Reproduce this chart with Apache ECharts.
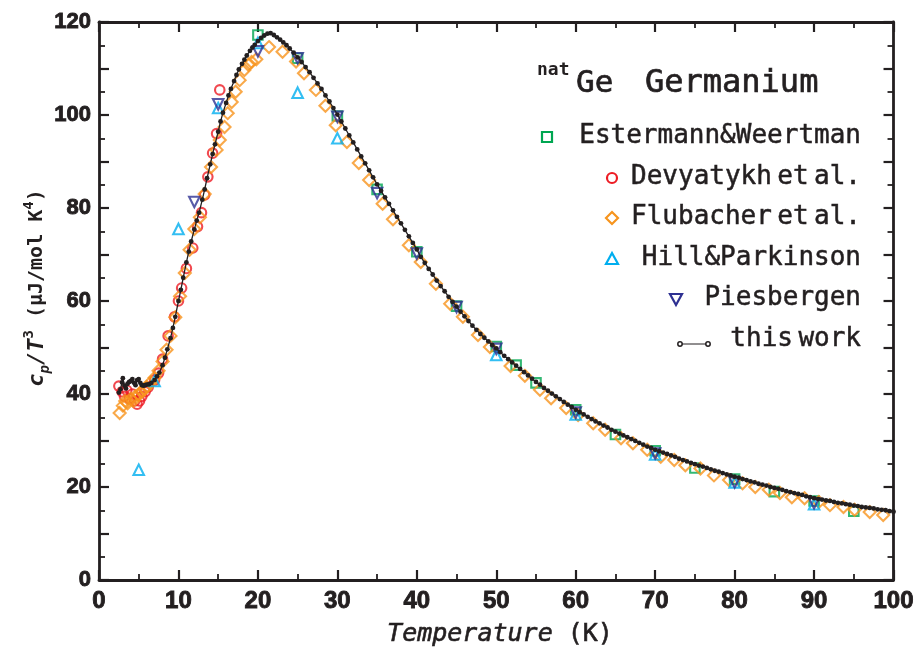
<!DOCTYPE html>
<html>
<head>
<meta charset="utf-8">
<script src="https://cdn.jsdelivr.net/npm/echarts@6/dist/echarts.min.js"></script>
<style>
    body { margin: 0; padding: 0; background: #fff; }
    #chart { width: 917px; height: 649px; }
</style>
</head>
<body>
<div id="chart"></div>
<script type="text/javascript">
    // this work (black dots + line)
    var workT = [2.5, 2.7, 2.9, 3.0, 3.2, 3.4, 3.6, 3.8, 4.0, 4.2, 4.4, 4.6, 4.8, 5.0, 5.2, 5.4, 5.6, 5.8, 6.0, 6.3, 6.6,
        7.0, 7.3, 7.6, 8.0, 8.3, 8.6, 9.0, 9.3, 9.6, 10.0, 10.3, 10.6, 11.0, 11.3, 11.6, 12.0, 12.3, 12.6, 13.0, 13.3, 13.6,
        14.0, 14.3, 14.6, 15.0, 15.3, 15.6, 16.0, 16.3, 16.6, 17.0, 17.3, 17.6, 18.0, 18.3, 18.6, 19.0, 19.3, 19.6,
        20.0, 20.4, 20.8, 21.2, 21.6, 22.0, 22.4, 22.8, 23.2, 23.6, 24.0, 24.5, 25.0, 25.5, 26.0, 26.5, 27.0, 27.5,
        28.0, 28.5, 29.0, 29.5, 30.0, 30.5, 31.0, 31.5, 32.0, 32.5, 33.0, 33.5, 34.0, 34.5, 35.0, 35.5, 36.0, 36.5,
        37.0, 37.5, 38.0, 38.5, 39.0, 39.5, 40.0, 40.5, 41.0, 41.5, 42.0, 42.5, 43.0, 43.5, 44.0, 44.5, 45.0, 45.5,
        46.0, 46.5, 47.0, 47.5, 48.0, 48.5, 49.0, 49.5, 50.0, 50.5, 51.0, 51.5, 52.0, 52.5, 53.0, 53.5, 54.0, 54.5,
        55.0, 55.5, 56.0, 56.5, 57.0, 57.5, 58.0, 58.5, 59.0, 59.5, 60.0, 60.5, 61.0, 61.5, 62.0, 62.5, 63.0, 63.5,
        64.0, 64.5, 65.0, 65.5, 66.0, 66.5, 67.0, 67.5, 68.0, 68.5, 69.0, 69.5, 70.0, 70.5, 71.0, 71.5, 72.0, 72.5,
        73.0, 73.5, 74.0, 74.5, 75.0, 75.5, 76.0, 76.5, 77.0, 77.5, 78.0, 78.5, 79.0, 79.5, 80.0, 80.5, 81.0, 81.5,
        82.0, 82.5, 83.0, 83.5, 84.0, 84.5, 85.0, 85.5, 86.0, 86.5, 87.0, 87.5, 88.0, 88.5, 89.0, 89.5, 90.0, 90.5,
        91.0, 91.5, 92.0, 92.5, 93.0, 93.5, 94.0, 94.5, 95.0, 95.5, 96.0, 96.5, 97.0, 97.5, 98.0, 98.5, 99.0, 99.5, 100.0];
    var workCp = [40.3, 41.0, 42.5, 43.4, 41.8, 41.2, 42.2, 42.6, 42.8, 43.2, 42.4, 41.9, 43.0, 43.2, 42.4, 41.9, 41.8, 41.9, 42.0, 42.1, 42.4,
        43.0, 43.8, 44.6, 46.2, 47.8, 49.6, 52.0, 54.2, 56.6, 60.0, 62.4, 65.0, 68.3, 70.6, 72.8, 75.4, 77.3, 79.0, 81.8, 84.0, 86.4,
        89.4, 91.6, 93.7, 96.4, 98.6, 100.5, 102.6, 104.2, 105.6, 107.3, 108.6, 109.8, 111.0, 111.9, 112.8, 113.8, 114.5, 115.1,
        115.9, 116.6, 117.1, 117.5, 117.6, 117.2, 116.7, 116.2, 115.6, 115.0, 114.3, 113.4, 112.4, 111.4, 110.3, 109.2, 108.0, 106.8,
        105.6, 104.2, 102.9, 101.5, 100.1, 98.6, 97.1, 95.6, 94.1, 92.6, 91.1, 89.6, 88.1, 86.6, 85.1, 83.7, 82.3, 80.9,
        79.5, 78.1, 76.7, 75.3, 73.9, 72.5, 71.1, 69.5, 68.2, 66.9, 65.7, 64.4, 63.2, 62.1, 60.9, 59.8, 58.8, 57.7,
        56.7, 55.7, 54.7, 53.8, 52.9, 52.1, 51.3, 50.5, 49.8, 49.0, 48.2, 47.5, 46.8, 46.1, 45.4, 44.7, 44.0, 43.3,
        42.6, 42.0, 41.3, 40.7, 40.1, 39.5, 38.9, 38.3, 37.7, 37.2, 36.6, 36.1, 35.6, 35.1, 34.6, 34.1, 33.7, 33.2,
        32.8, 32.3, 31.9, 31.5, 31.1, 30.7, 30.3, 29.9, 29.5, 29.1, 28.7, 28.4, 28.0, 27.7, 27.4, 27.1, 26.8, 26.5,
        26.1, 25.8, 25.5, 25.2, 24.9, 24.6, 24.4, 24.1, 23.8, 23.5, 23.3, 23.0, 22.7, 22.5, 22.2, 22.0, 21.7, 21.5,
        21.2, 21.0, 20.7, 20.5, 20.3, 20.0, 19.8, 19.6, 19.4, 19.1, 18.9, 18.7, 18.5, 18.3, 18.0, 17.8, 17.6, 17.4,
        17.3, 17.1, 17.0, 16.8, 16.6, 16.5, 16.3, 16.2, 16.0, 15.9, 15.7, 15.6, 15.5, 15.4, 15.2, 15.1, 15.0, 14.8, 14.7];

    // Estermann & Weertman (green squares)
    var esterT = [20, 25, 30, 35, 40, 45, 50, 52.5, 55, 60, 65, 70, 75, 80, 85, 90, 95];
    var esterCp = [117.2, 112.2, 99.8, 84.0, 70.6, 58.9, 50.2, 46.2, 42.4, 36.6, 31.3, 27.8, 24.1, 21.7, 19.0, 17.0, 14.8];

    // Devyatykh et al. (red circles)
    var devT = [2.5, 2.9, 3.2, 3.5, 3.8, 4.2, 4.5, 4.8, 5.1, 5.4, 5.8, 6.2, 7.0, 7.5, 8.0, 8.7, 9.5, 10.0, 10.4, 11.0,
        11.8, 12.4, 12.9, 13.3, 13.7, 14.3, 14.8, 15.2];
    var devCp = [41.7, 40.5, 39.5, 40.8, 39.0, 40.0, 38.5, 37.8, 38.5, 39.5, 40.5, 41.5, 43.0, 44.5, 47.5, 52.5, 56.6, 60.0, 62.8, 67.0,
        71.4, 76.0, 79.0, 82.8, 86.7, 91.8, 96.0, 105.4];

    // Flubacher et al. (orange diamonds)
    var flubT = [2.6, 3.0, 3.3, 3.6, 4.0, 4.3, 4.6, 5.0, 5.3, 5.7, 6.0, 6.5, 7.0, 7.5, 8.0, 8.5, 9.0, 9.6, 10.2, 10.8,
        11.4, 12.0, 12.7, 13.3, 14.1, 14.8, 15.2, 15.8, 16.2, 16.7, 17.2, 17.7, 18.3, 18.8, 19.2, 19.8, 21.4, 23.1, 24.8,
        25.8, 27.3, 28.5, 29.8, 31.2, 32.7, 34.0, 35.7, 37.0, 39.0, 40.5, 42.4, 44.2, 45.8, 47.7, 49.2, 51.8, 53.6, 55.5,
        56.9, 58.8, 60.3, 62.2, 63.7, 65.7, 67.2, 69.0, 70.7, 72.4, 73.8, 75.7, 77.4, 79.3, 81.0, 82.6, 84.3, 85.7, 87.2,
        88.8, 90.6, 92.0, 93.7, 95.1, 97.0, 98.7];
    var flubCp = [35.9, 37.5, 38.5, 38.0, 39.0, 38.5, 39.5, 39.8, 40.5, 41.0, 41.5, 42.5, 43.5, 45.0, 47.0, 49.5, 52.5, 56.5, 61.0, 66.0,
        71.0, 75.5, 78.0, 83.0, 88.8, 92.5, 94.6, 97.4, 100.4, 102.8, 105.0, 107.5, 109.7, 110.8, 111.4, 112.0, 114.6, 113.6, 111.5,
        109.0, 105.4, 102.0, 97.8, 94.2, 89.7, 86.0, 80.9, 77.6, 72.0, 68.4, 63.7, 59.4, 56.6, 52.7, 50.1, 46.0, 43.9, 40.9,
        39.1, 37.0, 35.5, 33.7, 32.3, 30.5, 29.4, 28.0, 26.5, 25.8, 24.7, 24.0, 22.5, 21.5, 20.8, 20.0, 19.4, 18.7, 17.8,
        17.6, 16.8, 16.1, 15.7, 15.1, 14.6, 14.0];

    // Hill & Parkinson (cyan triangles)
    var hillT = [5, 7, 10, 15, 20, 25, 30, 50, 60, 70, 80, 90];
    var hillCp = [23.7, 42.8, 75.5, 101.5, 115.5, 104.8, 95.0, 48.4, 35.6, 27.0, 21.0, 16.3];

    // Piesbergen (blue down triangles)
    var piesT = [12, 15, 20, 25, 30, 35, 40, 45, 50, 60, 70, 80, 90];
    var piesCp = [81.3, 102.3, 113.7, 112.2, 99.6, 83.2, 70.2, 58.7, 49.7, 36.0, 27.2, 21.0, 16.5];

    var ink = '#231f20';

    function pairs(xs, ys) {
        var out = [];
        for (var i = 0; i < xs.length; i++) out.push([xs[i], ys[i]]);
        return out;
    }

    function hollow(name, symbol, size, color, xs, ys, rotate) {
        return {
            name: name,
            type: 'scatter',
            symbol: symbol,
            symbolSize: size,
            symbolRotate: rotate || 0,
            data: pairs(xs, ys),
            itemStyle: { color: 'rgba(255,255,255,0)', borderColor: color, borderWidth: 2.1 },
            silent: true
        };
    }

    var tickAxis = function (pos, showLabel, isX) {
        return {
            type: 'value',
            position: pos,
            min: 0,
            max: isX ? 100 : 120,
            interval: 10,
            axisLine: { onZero: false, lineStyle: { color: ink, width: 2.8 } },
            axisTick: { inside: true, length: 10, lineStyle: { color: ink, width: 2.2 } },
            minorTick: { show: true, splitNumber: 2, length: 6, lineStyle: { color: ink, width: 1.8 } },
            splitLine: { show: false },
            axisLabel: {
                show: showLabel,
                color: ink,
                fontFamily: 'Liberation Sans',
                fontWeight: 'bold',
                fontSize: isX ? 24 : 22,
                textBorderColor: ink,
                textBorderWidth: 0.9,
                margin: isX ? 9 : 8,
                formatter: function (v) {
                    if (!isX && v % 20 !== 0) return '';
                    return String(v);
                }
            }
        };
    };

    // legend words; narrow gaps between words as in the original
    var legendRich = {
        w: { fontFamily: 'DejaVu Sans Mono', fontSize: 26, fill: ink, stroke: ink, lineWidth: 0.5 },
        g: { fontFamily: 'DejaVu Sans Mono', fontSize: 9, fill: ink }
    };
    function legendText(txt, y) {
        var parts = txt.split(' ');
        var s = parts.map(function (p) { return '{w|' + p + '}'; }).join('{g| }');
        return { type: 'text', x: 861, y: y, style: { text: s, rich: legendRich, align: 'right', verticalAlign: 'middle' } };
    }

    var chart = echarts.init(document.getElementById('chart'), null, { renderer: 'canvas' });

    var option = {
        animation: false,
        backgroundColor: '#fff',
        grid: { left: 99, right: 20, top: 22, bottom: 69 },
        xAxis: [tickAxis('bottom', true, true), tickAxis('top', false, true)],
        yAxis: [tickAxis('left', true, false), tickAxis('right', false, false)],
        series: [
            hollow('Devyatykh et al.', 'circle', 9.5, '#ed1c24', devT, devCp),
            hollow('Estermann&Weertman', 'rect', 9.5, '#00a651', esterT, esterCp),
            hollow('Flubacher et al.', 'diamond', 12, '#f7941d', flubT, flubCp),
            hollow('Hill&Parkinson', 'triangle', 10.5, '#00aeef', hillT, hillCp),
            hollow('Piesbergen', 'triangle', 10.5, '#2e3192', piesT, piesCp, 180),
            {
                name: 'this work',
                type: 'line',
                data: pairs(workT, workCp),
                symbol: 'circle',
                symbolSize: 4.8,
                showSymbol: true,
                showAllSymbol: true,
                itemStyle: { color: ink },
                lineStyle: { color: ink, width: 1.3 },
                silent: true
            }
        ],
        graphic: [
            // title
            { type: 'text', x: 537, y: 70, style: { text: 'nat', fontFamily: 'DejaVu Sans Mono', fontWeight: 'bold', fontSize: 18, fill: ink, verticalAlign: 'middle' } },
            { type: 'text', x: 576, y: 84, style: { text: 'Ge', fontFamily: 'DejaVu Sans Mono', fontSize: 31, fill: ink, stroke: ink, lineWidth: 0.7, verticalAlign: 'middle' } },
            { type: 'text', x: 645, y: 84, style: { text: 'Germanium', fontFamily: 'DejaVu Sans Mono', fontSize: 32, fill: ink, stroke: ink, lineWidth: 0.7, verticalAlign: 'middle' } },
            // legend
            legendText('Estermann&Weertman', 136),
            legendText('Devyatykh et al.', 177),
            legendText('Flubacher et al.', 217),
            legendText('Hill&Parkinson', 258),
            legendText('Piesbergen', 298),
            legendText('this work', 339),
            { type: 'rect', shape: { x: 542, y: 132, width: 10, height: 10 }, style: { fill: 'none', stroke: '#00a651', lineWidth: 2.2 } },
            { type: 'circle', shape: { cx: 612, cy: 178, r: 5 }, style: { fill: 'none', stroke: '#ed1c24', lineWidth: 2.2 } },
            { type: 'polygon', shape: { points: [[612, 212], [618, 218], [612, 224], [606, 218]] }, style: { fill: 'none', stroke: '#f7941d', lineWidth: 2.2 } },
            { type: 'polygon', shape: { points: [[612, 253], [618, 264], [606, 264]] }, style: { fill: 'none', stroke: '#00aeef', lineWidth: 2.2 } },
            { type: 'polygon', shape: { points: [[670, 294], [682, 294], [676, 305]] }, style: { fill: 'none', stroke: '#2e3192', lineWidth: 2.2 } },
            { type: 'line', shape: { x1: 681, y1: 344, x2: 707, y2: 344 }, style: { stroke: ink, lineWidth: 1 } },
            { type: 'circle', shape: { cx: 680, cy: 344, r: 2.2 }, style: { fill: '#fff', stroke: ink, lineWidth: 1.5 } },
            { type: 'circle', shape: { cx: 708, cy: 344, r: 2.2 }, style: { fill: '#fff', stroke: ink, lineWidth: 1.5 } },
            // axis titles
            {
                type: 'text', x: 500, y: 634,
                style: {
                    text: '{i|Temperature}{n| (K)}', align: 'center', verticalAlign: 'middle',
                    rich: {
                        i: { fontFamily: 'DejaVu Sans Mono', fontSize: 25, fontStyle: 'italic', fill: ink, stroke: ink, lineWidth: 0.6 },
                        n: { fontFamily: 'DejaVu Sans Mono', fontSize: 25, fill: ink, stroke: ink, lineWidth: 0.6 }
                    }
                }
            },
            {
                type: 'text', x: 37, y: 288, rotation: Math.PI / 2,
                style: {
                    text: '{i|c}{s|p}{i|/T}{u|3}{n| (\u03bcJ/mol K}{u|4}{n|)}', align: 'center', verticalAlign: 'middle',
                    rich: {
                        i: { fontFamily: 'DejaVu Sans Mono', fontSize: 22, fontWeight: 'bold', fontStyle: 'italic', fill: ink, verticalAlign: 'middle', lineHeight: 30 },
                        s: { fontFamily: 'DejaVu Sans Mono', fontSize: 14, fontWeight: 'bold', fontStyle: 'italic', fill: ink, verticalAlign: 'bottom', lineHeight: 30 },
                        u: { fontFamily: 'DejaVu Sans Mono', fontSize: 14, fontWeight: 'bold', fill: ink, verticalAlign: 'top', lineHeight: 30 },
                        n: { fontFamily: 'DejaVu Sans Mono', fontSize: 20, fontWeight: 'bold', fill: ink, verticalAlign: 'middle', lineHeight: 30 }
                    }
                }
            }
        ]
    };

    chart.setOption(option);
</script>
</body>
</html>
